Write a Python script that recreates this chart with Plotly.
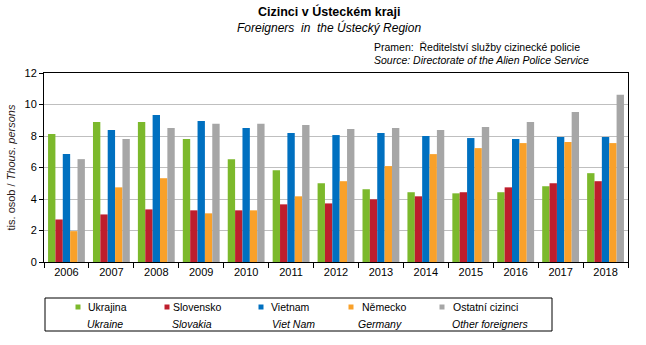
import plotly.graph_objects as go

years = ["2006", "2007", "2008", "2009", "2010", "2011", "2012", "2013", "2014", "2015", "2016", "2017", "2018"]
ukrajina = [8.13, 8.89, 8.89, 7.81, 6.53, 5.83, 5.00, 4.62, 4.43, 4.36, 4.43, 4.81, 5.64]
slovensko = [2.70, 3.02, 3.34, 3.28, 3.28, 3.66, 3.72, 3.98, 4.17, 4.43, 4.74, 5.00, 5.13]
vietnam = [6.85, 8.38, 9.34, 8.96, 8.51, 8.19, 8.06, 8.19, 8.00, 7.87, 7.81, 7.94, 7.94]
nemecko = [1.96, 4.74, 5.32, 3.09, 3.28, 4.17, 5.13, 6.09, 6.85, 7.23, 7.55, 7.62, 7.55]
ostatni = [6.53, 7.81, 8.51, 8.77, 8.77, 8.70, 8.45, 8.51, 8.38, 8.57, 8.89, 9.53, 10.62]

names_cz = ["Ukrajina", "Slovensko", "Vietnam", "Německo", "Ostatní cizinci"]
names_en = ["Ukraine", "Slovakia", "Viet Nam", "Germany", "Other foreigners"]
colors = ["#7cb92c", "#be1e2d", "#0070c0", "#f9a12a", "#a6a6a6"]
series = [ukrajina, slovensko, vietnam, nemecko, ostatni]

FONT = "Liberation Sans, Arial, sans-serif"
W, H = 646, 345
L, R, T, B = 44, 18, 73, 83
PW = W - L - R
PH = H - T - B

def px_x(x):
    return (x - L) / PW

def px_y(y):
    return (H - B - y) / PH

fig = go.Figure()
for name, en, col, vals in zip(names_cz, names_en, colors, series):
    fig.add_trace(go.Bar(x=years, y=vals, name=name, marker=dict(color=col, line=dict(width=0)),
                         showlegend=False))

annotations = [
    dict(text="<b>Cizinci v Ústeckém kraji</b>", x=px_x(329), y=px_y(12), font=dict(size=12.5, color="#000")),
    dict(text="<i>Foreigners  in  the Ústecký Region</i>", x=px_x(329), y=px_y(28), font=dict(size=12, color="#000")),
    dict(text="Pramen:  Ředitelství služby cizinecké policie", x=px_x(372), y=px_y(47), xanchor="left",
         font=dict(size=10.5, color="#000")),
    dict(text="<i>Source: Directorate of the Alien Police Service</i>", x=px_x(372), y=px_y(60), xanchor="left",
         font=dict(size=10.5, color="#000")),
]
for a in annotations:
    a.setdefault("xanchor", "center")
    a.update(xref="paper", yref="paper", yanchor="middle", showarrow=False, font_family=FONT)

shapes = [dict(type="rect", xref="paper", yref="paper", x0=px_x(45), x1=px_x(552), y0=px_y(298), y1=px_y(331),
               line=dict(color="#000", width=1), fillcolor="rgba(0,0,0,0)")]

marker_x = [78, 167, 261, 351, 442]
text1_x = [86, 171, 269, 360, 451]
text2_x = [85, 170, 270, 356, 450]
for i in range(5):
    shapes.append(dict(type="rect", xref="paper", yref="paper",
                       x0=px_x(marker_x[i] - 2.5), x1=px_x(marker_x[i] + 2.5),
                       y0=px_y(307 + 2.5), y1=px_y(307 - 2.5),
                       line=dict(width=0), fillcolor=colors[i]))
    annotations.append(dict(text=names_cz[i], x=px_x(text1_x[i]), y=px_y(307), xref="paper", yref="paper",
                            xanchor="left", yanchor="middle", showarrow=False,
                            font=dict(family=FONT, size=10.5, color="#000")))
    annotations.append(dict(text="<i>" + names_en[i] + "</i>", x=px_x(text2_x[i]), y=px_y(324), xref="paper",
                            yref="paper", xanchor="left", yanchor="middle", showarrow=False,
                            font=dict(family=FONT, size=10.5, color="#000")))

fig.update_layout(
    width=W, height=H,
    margin=dict(l=L, r=R, t=T, b=B, pad=0),
    paper_bgcolor="white", plot_bgcolor="white",
    barmode="group", bargap=0.18, bargroupgap=0,
    font=dict(family=FONT, size=11, color="#000"),
    annotations=annotations, shapes=shapes,
    xaxis=dict(type="category", showline=True, linecolor="#000", linewidth=1, mirror=True,
               ticks="outside", ticklen=5, tickcolor="#000", tickson="boundaries",
               tickfont=dict(size=11, color="#000"), showgrid=False),
    yaxis=dict(range=[0, 12], dtick=2, showline=True, linecolor="#000", linewidth=1, mirror=True,
               ticks="outside", ticklen=4, tickcolor="#000", gridcolor="#bfbfbf", gridwidth=1,
               tickfont=dict(size=11, color="#000"), zeroline=False,
               title=dict(text="tis. osob / <i>Thous. persons</i>", standoff=6,
                          font=dict(size=11, color="#2a1a1a"))),
)

fig.write_html("out.html")
